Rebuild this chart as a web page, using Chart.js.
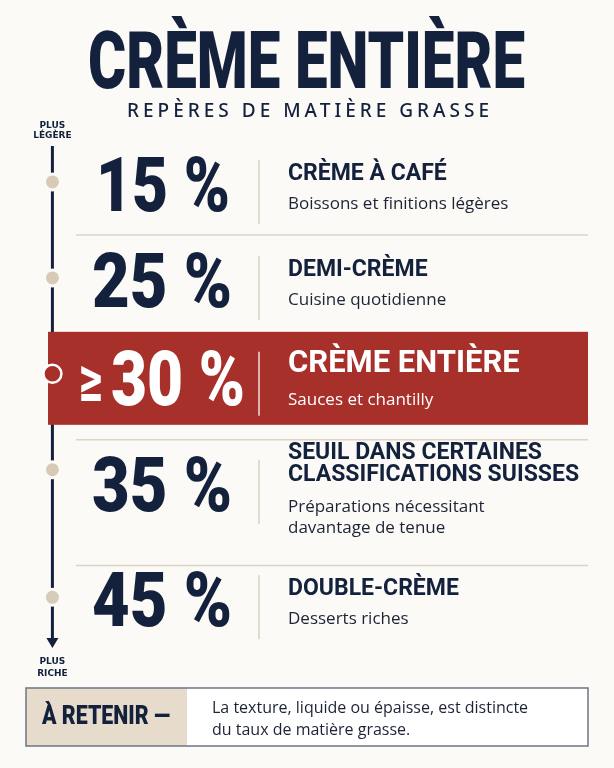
<!DOCTYPE html>
<html><head><meta charset="utf-8">
<script src="https://cdn.jsdelivr.net/npm/chart.js@4/dist/chart.umd.min.js"></script>
<style>html,body{margin:0;padding:0;background:#fbfaf6;}#c{display:block;}</style>
</head><body><canvas id="c" width="614" height="768"></canvas>
<script>
const fatLevels = ["15 %", "25 %", "≥30 %", "35 %", "45 %"];
const fatValues = [15, 25, 30, 35, 45];
const productNames = ["CRÈME À CAFÉ", "DEMI-CRÈME", "CRÈME ENTIÈRE", "SEUIL DANS CERTAINES\nCLASSIFICATIONS SUISSES", "DOUBLE-CRÈME"];
const usages = ["Boissons et finitions légères", "Cuisine quotidienne", "Sauces et chantilly", "Préparations nécessitant\ndavantage de tenue", "Desserts riches"];
const highlightIndex = 2;
const rowSpan = [1, 1, 1, 1.33, 1];
const rowPos = rowSpan.reduce((a, s, i) => { a.push(i === 0 ? 0 : a[i-1] + rowSpan[i-1]); return a; }, []);

const NAVY = "#14213d", RED = "#a8302a", BEIGE = "#d7cab6", BG = "#fbfaf6";
const NARROW = "'Liberation Sans Narrow', 'Roboto', sans-serif";

function fit(ctx, text, x, y, font, w, align) {
  ctx.save(); ctx.font = font;
  const m = ctx.measureText(text).width;
  const s = w / m;
  ctx.translate(x, y); ctx.scale(s, 1);
  ctx.textAlign = align || "left";
  ctx.fillText(text, 0, 0);
  ctx.restore();
}

const drawPlugin = {
  id: "info",
  beforeDatasetsDraw(chart) {
    const ctx = chart.ctx, ys = chart.scales.y, xs = chart.scales.x;
    const lx = xs.getPixelForValue(0);
    ctx.save();
    ctx.fillStyle = NAVY; ctx.textBaseline = "alphabetic";
    fit(ctx, "CRÈME ENTIÈRE", 88, 88, "900 80px " + NARROW, 437);
    ctx.font = "500 19px 'Noto Sans', sans-serif";
    ctx.textAlign = "center";
    if (ctx.letterSpacing !== undefined) ctx.letterSpacing = "4px";
    ctx.fillText("REPÈRES DE MATIÈRE GRASSE", 310, 117);
    if (ctx.letterSpacing !== undefined) ctx.letterSpacing = "0px";
    ctx.font = "bold 9px 'DejaVu Sans', sans-serif";
    ctx.fillText("PLUS", lx, 128); ctx.fillText("LÉGÈRE", lx, 138);
    ctx.fillText("PLUS", lx, 664); ctx.fillText("RICHE", lx, 676);
    ctx.strokeStyle = NAVY; ctx.lineWidth = 3;
    ctx.beginPath(); ctx.moveTo(lx, 146); ctx.lineTo(lx, 640); ctx.stroke();
    ctx.beginPath(); ctx.moveTo(lx - 6, 638); ctx.lineTo(lx + 6, 638); ctx.lineTo(lx, 648); ctx.closePath(); ctx.fill();
    const hy = ys.getPixelForValue(rowPos[highlightIndex]);
    ctx.fillStyle = RED; ctx.fillRect(48, hy - 42, 540, 93);
    ctx.strokeStyle = "#ddd4c6"; ctx.lineWidth = 1.5;
    [[0,1],[2,3],[3,4]].forEach(([a,b]) => {
      const y = (ys.getPixelForValue(rowPos[a]) + ys.getPixelForValue(rowPos[b])) / 2 + (a===0?5:a===2?18:32);
      ctx.beginPath(); ctx.moveTo(76, y); ctx.lineTo(588, y); ctx.stroke();
    });
    fatLevels.forEach((t, i) => {
      const y = ys.getPixelForValue(rowPos[i]);
      const hi = i === highlightIndex;
      const tall = productNames[i].includes("\n");
      const ny = y + 10 + (tall ? 12 : 0);
      ctx.fillStyle = hi ? "#fff" : NAVY;
      ctx.textBaseline = "middle";
      if (hi) {
        fit(ctx, "≥", 78, ny + 2, "bold 60px 'DejaVu Sans'", 26);
        fit(ctx, t.replace("≥", ""), 111, ny + 2, "900 76px " + NARROW, 134);
      } else {
        fit(ctx, t, i === 0 ? 96 : 92, ny, "900 76px " + NARROW, i === 0 ? 134 : 140);
      }
      ctx.strokeStyle = hi ? "rgba(255,255,255,0.85)" : "#d8cfc0"; ctx.lineWidth = 1.5;
      ctx.beginPath(); ctx.moveTo(259, ny - 32); ctx.lineTo(259, ny + 32); ctx.stroke();
      const nl = productNames[i].split("\n");
      const top = tall ? y - 16 : y - 8;
      nl.forEach((l, k) => {
        const f = (hi ? "bold 31px " : "bold 23px ") + NARROW;
        ctx.save(); ctx.font = f; ctx.textAlign = "left";
        ctx.fillText(l, 288, top + k * 22 - (hi ? 2 : 0)); ctx.restore();
      });
      const dl = usages[i].split("\n");
      ctx.fillStyle = hi ? "#fff" : "#1d2236";
      ctx.font = "17px 'Open Sans', sans-serif"; ctx.textAlign = "left";
      const dtop = tall ? y + 37 : y + 22;
      dl.forEach((l, k) => ctx.fillText(l, 288, dtop + k * 21 + (hi ? 4 : 0)));
    });
    ctx.fillStyle = "#fff"; ctx.fillRect(26, 688, 562, 58);
    ctx.fillStyle = "#e7dccb"; ctx.fillRect(26, 688, 161, 58);
    ctx.strokeStyle = "#6d7585"; ctx.lineWidth = 1.5; ctx.strokeRect(26, 688, 562, 58);
    ctx.fillStyle = NAVY; ctx.textBaseline = "middle";
    fit(ctx, "À RETENIR —", 42, 718, "900 25px " + NARROW, 128);
    ctx.fillStyle = "#1d2236"; ctx.font = "16px 'Open Sans', sans-serif";
    ctx.fillText("La texture, liquide ou épaisse, est distincte", 212, 708);
    ctx.fillText("du taux de matière grasse.", 212, 730);
    ctx.restore();
  }
};

new Chart(document.getElementById("c"), {
  type: "scatter",
  data: { datasets: [{
    data: fatValues.map((v, i) => ({ x: 0, y: rowPos[i], v })),
    pointRadius: fatValues.map((v, i) => i === highlightIndex ? 9 : 8),
    pointBackgroundColor: fatValues.map((v, i) => i === highlightIndex ? RED : BEIGE),
    pointBorderColor: fatValues.map((v, i) => i === highlightIndex ? "#fff" : BG),
    pointBorderWidth: fatValues.map((v, i) => i === highlightIndex ? 2.5 : 3),
    pointHoverRadius: 9
  }]},
  options: {
    responsive: false, animation: false,
    layout: { padding: { top: 134, bottom: 116, left: 0, right: 0 } },
    plugins: { legend: { display: false }, tooltip: { enabled: false } },
    scales: {
      x: { type: "linear", min: -1, max: 13.6, display: false },
      y: { type: "linear", min: -0.5, max: 4.9, reverse: true, display: false }
    }
  },
  plugins: [drawPlugin]
});
</script></body></html>
